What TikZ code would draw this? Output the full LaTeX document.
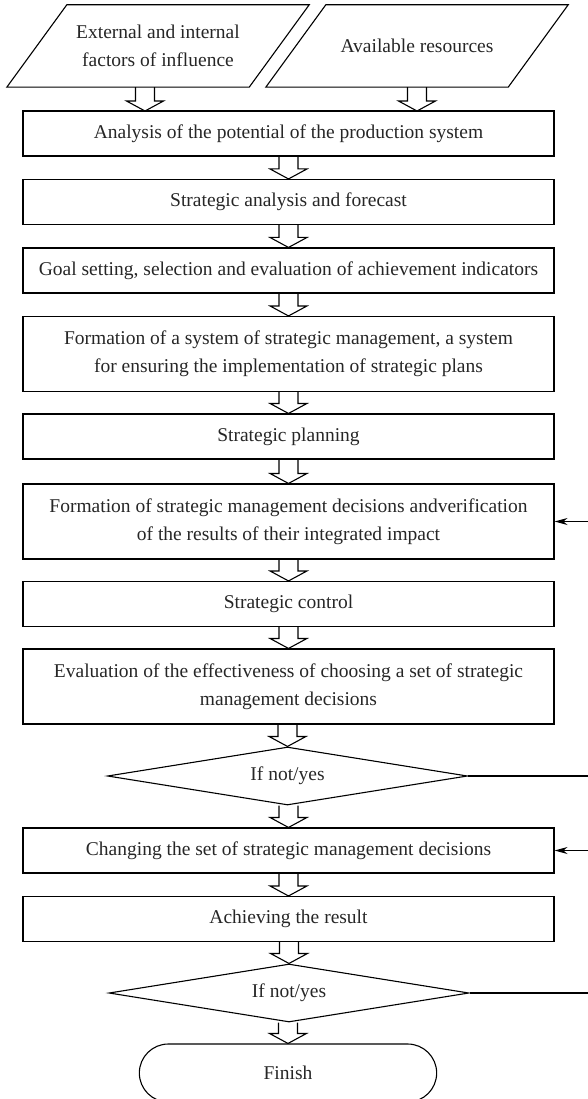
\documentclass[tikz,border=0pt]{standalone}
\usepackage{fontspec}
\setmainfont{Liberation Serif}
\usetikzlibrary{shapes.geometric,shapes.misc,arrows.meta,calc}

\newcommand{\fatarrow}[2]{%
  \draw[bigarrow] let \p1=(#1), \p2=(#2) in
    (\x2-9.5pt,\y1) -- (\x2-9.5pt,\y2+10pt) -- (\x2-18.5pt,\y2+10pt) -- (\x2,\y2)
    -- (\x2+18.5pt,\y2+10pt) -- (\x2+9.5pt,\y2+10pt) -- (\x2+9.5pt,\y1);}
\newcommand{\slanted}[1]{%
  \draw[line width=1.1pt,line join=miter] (#1.south west) -- ([xshift=-60pt]#1.south east)
    -- (#1.north east) -- ([xshift=60pt]#1.north west) -- cycle;}

\begin{document}
\begin{tikzpicture}[x=1pt,y=-1pt,
    every node/.style={font=\fontsize{19.5}{28}\selectfont,text=black!85},
    stage/.style={draw=black,line width=1.1pt,minimum width=531pt,minimum height=45pt,align=center,inner sep=0pt},
    tallstage/.style={stage,minimum height=75pt},
    source/.style={minimum width=302pt,minimum height=82pt,align=center,inner sep=0pt},
    check/.style={draw=black,line width=1.1pt,diamond,aspect=6,minimum width=360pt,minimum height=58pt,inner sep=0pt},
    bigarrow/.style={line width=1.1pt,line join=miter},
    feedback/.style={line width=1.1pt,-{Stealth[length=13pt,width=7pt]}}]
  \useasboundingbox (0,0) rectangle (588,1099);

  \node[source] (influence) at (158,46) {External and internal\\factors of influence};
  \node[source] (resources) at (417,46) {Available resources};
  \slanted{influence}
  \slanted{resources}
  \node[stage] (potential) at (288.5,133.5) {Analysis of the potential of the production system};
  \node[stage] (forecast) at (288.5,202) {Strategic analysis and forecast};
  \node[stage] (goals) at (288.5,270.5) {Goal setting, selection and evaluation of achievement indicators};
  \node[tallstage] (system) at (288.5,354) {Formation of a system of strategic management, a system\\for ensuring the implementation of strategic plans};
  \node[stage] (planning) at (288.5,436.5) {Strategic planning};
  \node[tallstage] (decisions) at (288.5,521.5) {Formation of strategic management decisions andverification\\of the results of their integrated impact};
  \node[stage] (control) at (288.5,604) {Strategic control};
  \node[tallstage] (evaluation) at (288.5,686.5) {Evaluation of the effectiveness of choosing a set of strategic\\management decisions};
  \node[check] (check1) at (287.5,776) {If not/yes};
  \node[stage] (changing) at (288.5,850.5) {Changing the set of strategic management decisions};
  \node[stage] (result) at (288.5,919) {Achieving the result};
  \node[check] (check2) at (289,993) {If not/yes};
  \node[draw=black,line width=1.1pt,rounded rectangle,minimum width=304pt,minimum height=58pt] (finish) at (288,1073) {Finish};

  \coordinate (rim) at (588,0);
  \coordinate (in1) at (145,111);
  \coordinate (in2) at (417,111);

  \fatarrow{influence.south}{in1}
  \fatarrow{resources.south}{in2}
  \fatarrow{potential.south}{forecast.north}
  \fatarrow{forecast.south}{goals.north}
  \fatarrow{goals.south}{system.north}
  \fatarrow{system.south}{planning.north}
  \fatarrow{planning.south}{decisions.north}
  \fatarrow{decisions.south}{control.north}
  \fatarrow{control.south}{evaluation.north}
  \fatarrow{evaluation.south}{check1.north}
  \fatarrow{check1.south}{changing.north}
  \fatarrow{changing.south}{result.north}
  \fatarrow{result.south}{check2.north}
  \fatarrow{check2.south}{finish.north}

  \draw[feedback] (decisions.east -| rim) -- (decisions.east);
  \draw[line width=1.1pt] (check1.east) -- (check1.east -| rim);
  \draw[feedback] (changing.east -| rim) -- (changing.east);
  \draw[line width=1.1pt] (check2.east) -- (check2.east -| rim);
\end{tikzpicture}
\end{document}
